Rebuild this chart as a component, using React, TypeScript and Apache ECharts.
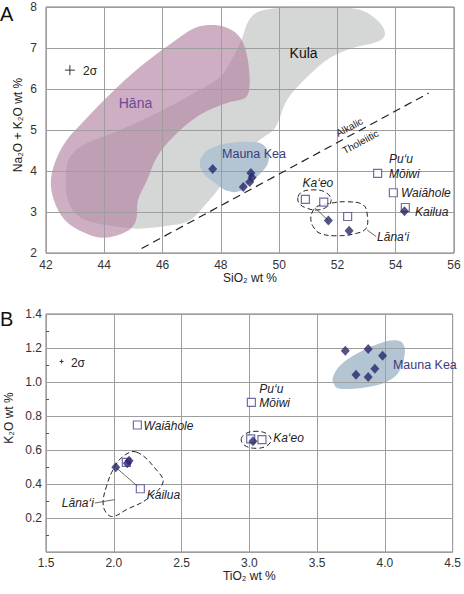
import React, { useEffect, useRef } from "react";
import * as echarts from "echarts";

const FONT = '"Liberation Sans", Arial, sans-serif';
const NAVY = "#28286a";
const SQUARE_EDGE = "#4a4a8c";

// ---------- Panel A (SiO2 vs Na2O+K2O) ----------
const kulaFieldA: [number, number][] = [
  [42.72, 4.15], [42.72, 3.37], [43.06, 2.93], [43.68, 2.73], [44.88, 2.61], [45.23, 2.59],
  [46.36, 2.68], [46.94, 2.8], [47.52, 3.22], [47.97, 3.61], [48.38, 4.02], [48.83, 4.39],
  [49.34, 4.76], [49.86, 5.05], [50.27, 5.73], [50.96, 6.29], [51.75, 6.76], [52.53, 7.0],
  [53.36, 7.15], [53.63, 7.32], [53.46, 7.61], [52.77, 7.93], [51.4, 8.0], [50.03, 7.98],
  [49.1, 7.8], [48.66, 7.12], [48.42, 6.78], [47.97, 6.29], [46.94, 5.85], [46.01, 5.49],
  [44.54, 5.0], [43.41, 4.68], [42.93, 4.44],
];
const hanaFieldA: [number, number][] = [
  [47.63, 7.56], [48.14, 7.51], [48.59, 7.32], [48.83, 7.0], [48.97, 6.46], [48.97, 5.98],
  [48.83, 5.78], [48.21, 5.66], [47.28, 5.37], [46.36, 4.83], [45.81, 4.34], [45.47, 3.78],
  [45.16, 3.29], [45.09, 2.8], [44.81, 2.54], [44.02, 2.37], [43.34, 2.49], [42.65, 2.8],
  [42.27, 3.29], [42.17, 3.78], [42.34, 4.27], [42.72, 4.76], [43.17, 5.12], [44.09, 5.8],
  [45.23, 6.54], [46.6, 7.27], [47.11, 7.49],
];
const maunaKeaFieldA: [number, number][] = [
  [47.28, 4.2], [47.46, 4.46], [47.8, 4.59], [48.31, 4.68], [49.0, 4.71], [49.41, 4.66],
  [49.62, 4.46], [49.62, 4.2], [49.41, 3.98], [49.0, 3.71], [48.66, 3.51], [48.25, 3.51],
  [47.8, 3.71], [47.42, 3.93],
];
const kaeoOutlineA: [number, number][] = [
  [50.65, 3.37], [50.78, 3.49], [51.16, 3.54], [51.57, 3.49], [51.78, 3.32], [51.68, 3.15],
  [51.33, 3.05], [50.92, 3.1], [50.68, 3.22],
];
const lanaiOutlineA: [number, number][] = [
  [51.12, 2.97], [51.29, 3.13], [51.75, 3.21], [52.32, 3.25], [52.89, 3.17], [53.03, 2.89],
  [52.98, 2.6], [52.66, 2.48], [51.98, 2.42], [51.4, 2.48], [51.17, 2.64], [51.09, 2.8],
];
const alkalicLineA: [number, number][] = [[45.28, 2.11], [55.13, 5.9]];
const kaeoLinkA: [number, number][] = [[51.23, 3.1], [51.69, 2.79]];
const lanaiLeaderA: [number, number][] = [[53.02, 2.56], [53.33, 2.4]];

const maunaKeaA: [number, number][] = [[47.72, 4.05], [49.03, 3.95], [49.07, 3.84], [48.99, 3.73], [48.77, 3.61]];
const filledOthersA: [number, number][] = [[51.69, 2.79], [52.4, 2.54], [54.3, 3.02]];
const openSquaresA: [number, number][] = [
  [53.38, 3.94], [53.92, 3.47], [54.33, 3.11], [50.9, 3.31], [51.53, 3.24], [52.35, 2.89],
];

const plainLabelsA: [number, number, string][] = [[50.84, 6.89, "Kula"]];
const hanaLabelA: [number, number, string][] = [[45.07, 5.66, "Hāna"]];
const maunaKeaLabelA: [number, number, string][] = [[48.04, 4.41, "Mauna Kea"]];
const italicLabelsA: [number, number, string][] = [
  [53.77, 4.29, "Pu‘u"], [53.77, 3.93, "Mōiwi"], [54.18, 3.46, "Waiāhole"],
  [54.66, 3.0, "Kailua"], [53.36, 2.39, "Lāna‘i"],
];
const kaeoLabelA: [number, number, string][] = [[51.33, 3.71, "Ka‘eo"]];
const seriesLineLabelsA: [number, number, string][] = [[52.41, 5.07, "Alkalic"], [52.79, 4.71, "Tholeiitic"]];
const sigmaCrossA: [number, number][] = [[42.82, 6.46]];
const sigmaLabelA: [number, number, string][] = [[43.27, 6.44, "2σ"]];

// ---------- Panel B (TiO2 vs K2O) ----------
const maunaKeaFieldB: [number, number][] = [
  [3.627, 0.984], [3.615, 1.024], [3.676, 1.102], [3.824, 1.18], [3.971, 1.229], [4.068, 1.245],
  [4.13, 1.229], [4.147, 1.171], [4.105, 1.062], [4.02, 1.004], [3.897, 0.974], [3.726, 0.959],
  [3.647, 0.965],
];
const lanaiOutlineB: [number, number][] = [
  [2.167, 0.588], [2.314, 0.484], [2.362, 0.406], [2.24, 0.308], [2.093, 0.249], [1.995, 0.209],
  [1.946, 0.229], [1.921, 0.288], [1.946, 0.386], [1.995, 0.484], [2.068, 0.562],
];
const kaeoOutlineB: [number, number][] = [
  [2.94, 0.66], [2.97, 0.695], [3.05, 0.71], [3.13, 0.695], [3.16, 0.66], [3.13, 0.625],
  [3.05, 0.61], [2.97, 0.625],
];
const kailuaLinkB: [number, number][] = [[2.015, 0.498], [2.196, 0.372]];
const lanaiLeaderB: [number, number][] = [[1.86, 0.288], [2.007, 0.308]];

const maunaKeaB: [number, number][] = [
  [3.708, 1.184], [3.877, 1.194], [3.983, 1.155], [3.926, 1.078], [3.787, 1.043], [3.877, 1.029],
];
const filledOthersB: [number, number][] = [[2.015, 0.498], [2.1, 0.522], [2.113, 0.537], [3.027, 0.651]];
const openSquaresB: [number, number][] = [
  [3.015, 0.88], [2.174, 0.747], [2.196, 0.372], [2.093, 0.527], [3.01, 0.665], [3.093, 0.661],
];

const italicLabelsB: [number, number, string][] = [
  [3.074, 0.96, "Pu‘u"], [3.074, 0.878, "Mōiwi"], [2.22, 0.743, "Waiāhole"],
  [2.243, 0.337, "Kailua"], [3.176, 0.672, "Ka‘eo"],
];
const lanaiLabelB: [number, number, string][] = [[1.853, 0.29, "Lāna‘i"]];
const maunaKeaLabelB: [number, number, string][] = [[4.059, 1.1, "Mauna Kea"]];
const sigmaCrossB: [number, number][] = [[1.615, 1.121]];
const sigmaLabelB: [number, number, string][] = [[1.684, 1.113, "2σ"]];

function polySeries(g: number, pts: [number, number][], style: any, smooth: number, z: number) {
  return {
    type: "custom",
    coordinateSystem: "cartesian2d",
    xAxisIndex: g,
    yAxisIndex: g,
    silent: true,
    z,
    data: pts,
    renderItem: (params: any, api: any) => {
      if (params.dataIndex !== 0) return null;
      const points = pts.map((p) => api.coord(p));
      return { type: "polygon", shape: { points, smooth }, style };
    },
  };
}

function textSeries(
  g: number,
  items: [number, number, string][],
  font: string,
  fill: string,
  align: string,
  rotation = 0
) {
  return {
    type: "custom",
    coordinateSystem: "cartesian2d",
    xAxisIndex: g,
    yAxisIndex: g,
    silent: true,
    z: 7,
    data: items.map((d) => [d[0], d[1]]),
    renderItem: (params: any, api: any) => {
      const p = api.coord([api.value(0), api.value(1)]);
      return {
        type: "text",
        x: p[0],
        y: p[1],
        rotation,
        style: { text: items[params.dataIndex][2], font, fill, align, verticalAlign: "middle" },
      };
    },
  };
}

function crossSeries(g: number, pts: [number, number][], half: number) {
  return {
    type: "custom",
    coordinateSystem: "cartesian2d",
    xAxisIndex: g,
    yAxisIndex: g,
    silent: true,
    z: 7,
    data: pts,
    renderItem: (params: any, api: any) => {
      const p = api.coord([api.value(0), api.value(1)]);
      const st = { stroke: "#333", lineWidth: 1 };
      return {
        type: "group",
        children: [
          { type: "line", shape: { x1: p[0] - half, y1: p[1], x2: p[0] + half, y2: p[1] }, style: st },
          { type: "line", shape: { x1: p[0], y1: p[1] - half, x2: p[0], y2: p[1] + half }, style: st },
        ],
      };
    },
  };
}

function lineSeries(g: number, pts: [number, number][], width: number, dash: any, color = "#222") {
  return {
    type: "line",
    xAxisIndex: g,
    yAxisIndex: g,
    silent: true,
    z: 4,
    data: pts,
    symbol: "none",
    lineStyle: { color, width, type: dash },
  };
}

function scatter(g: number, pts: [number, number][], filled: boolean) {
  return filled
    ? {
        type: "scatter",
        xAxisIndex: g,
        yAxisIndex: g,
        silent: true,
        z: 6,
        data: pts,
        symbol: "diamond",
        symbolSize: [9, 10],
        itemStyle: { color: NAVY },
      }
    : {
        type: "scatter",
        xAxisIndex: g,
        yAxisIndex: g,
        silent: true,
        z: 5,
        data: pts,
        symbol: "rect",
        symbolSize: 8,
        itemStyle: { color: "#ffffff", borderColor: SQUARE_EDGE, borderWidth: 1.2 },
      };
}

const dashedOutline = { fill: "none", stroke: "#222", lineWidth: 1, lineDash: [5, 3] };
const tickLabel = { fontFamily: FONT, fontSize: 12, color: "#333" };
const splitLine = { show: true, lineStyle: { color: "#9e9e9e", width: 1 } };

export default function App() {
  const ref = useRef<HTMLDivElement>(null);
  useEffect(() => {
    if (!ref.current) return;
    const chart = echarts.init(ref.current, undefined, { renderer: "svg" });
    const italic = `italic 12px ${FONT}`;
    chart.setOption({
      animation: false,
      backgroundColor: "#ffffff",
      grid: [
        { left: 46, top: 7, width: 408, height: 246, show: true, borderColor: "#7a7a7a", borderWidth: 1, z: 3 },
        { left: 46, top: 314, width: 408, height: 238, show: true, borderColor: "#7a7a7a", borderWidth: 1, z: 3 },
      ],
      xAxis: [
        {
          gridIndex: 0, type: "value", min: 42, max: 56, interval: 2, z: 3,
          name: "SiO₂ wt %", nameLocation: "middle", nameGap: 14,
          nameTextStyle: { fontFamily: FONT, fontSize: 12, color: "#222" },
          axisLine: { show: false }, axisTick: { show: false },
          axisLabel: { ...tickLabel, margin: 6 }, splitLine,
        },
        {
          gridIndex: 1, type: "value", min: 1.5, max: 4.5, interval: 0.5, z: 3,
          name: "TiO₂ wt %", nameLocation: "middle", nameGap: 16,
          nameTextStyle: { fontFamily: FONT, fontSize: 12, color: "#222" },
          axisLine: { show: false }, axisTick: { show: false },
          axisLabel: { ...tickLabel, margin: 5, formatter: (v: number) => v.toFixed(1) }, splitLine,
        },
      ],
      yAxis: [
        {
          gridIndex: 0, type: "value", min: 2, max: 8, interval: 1, z: 3,
          axisLine: { show: false }, axisTick: { show: false },
          axisLabel: { ...tickLabel, margin: 9 }, splitLine,
        },
        {
          gridIndex: 1, type: "value", min: 0, max: 1.4, interval: 0.2, z: 3,
          axisLine: { show: false }, axisTick: { show: false, inside: true },
          minorTick: { show: true, splitNumber: 2, length: 3, lineStyle: { color: "#555", width: 1 } },
          axisLabel: { ...tickLabel, margin: 4, showMinLabel: false, formatter: (v: number) => v.toFixed(1) },
          splitLine,
        },
      ],
      graphic: [
        { type: "text", left: 0, top: 4, style: { text: "A", font: `20px ${FONT}`, fill: "#111" } },
        { type: "text", left: 0, top: 309, style: { text: "B", font: `20px ${FONT}`, fill: "#111" } },
        {
          type: "text", x: 17.5, y: 125, rotation: Math.PI / 2,
          style: { text: "Na₂O + K₂O wt %", font: `12px ${FONT}`, fill: "#222", align: "center", verticalAlign: "middle" },
        },
        {
          type: "text", x: 8.5, y: 418, rotation: Math.PI / 2,
          style: { text: "K₂O wt %", font: `12px ${FONT}`, fill: "#222", align: "center", verticalAlign: "middle" },
        },
      ],
      series: [
        // Panel A fields
        polySeries(0, kulaFieldA, { fill: "#d5d7d7" }, 0.35, 1),
        polySeries(0, hanaFieldA, { fill: "rgb(176,124,157)", opacity: 0.62 }, 0.35, 1),
        polySeries(0, maunaKeaFieldA, { fill: "#b3c4d2" }, 0.4, 1),
        polySeries(0, kaeoOutlineA, dashedOutline, 0.4, 4),
        polySeries(0, lanaiOutlineA, dashedOutline, 0.4, 4),
        lineSeries(0, alkalicLineA, 1.2, [8, 5]),
        lineSeries(0, kaeoLinkA, 0.8, "solid", "#444"),
        lineSeries(0, lanaiLeaderA, 0.8, "solid", "#444"),
        scatter(0, openSquaresA, false),
        scatter(0, maunaKeaA, true),
        scatter(0, filledOthersA, true),
        textSeries(0, plainLabelsA, `14px ${FONT}`, "#111", "center"),
        textSeries(0, hanaLabelA, `14px ${FONT}`, "#6a4a98", "center"),
        textSeries(0, maunaKeaLabelA, `12.5px ${FONT}`, "#3b3a7e", "left"),
        textSeries(0, italicLabelsA, italic, "#222", "left"),
        textSeries(0, kaeoLabelA, italic, "#222", "center"),
        textSeries(0, seriesLineLabelsA, `10px ${FONT}`, "#222", "center", (28.4 * Math.PI) / 180),
        crossSeries(0, sigmaCrossA, 5),
        textSeries(0, sigmaLabelA, `12px ${FONT}`, "#222", "left"),
        // Panel B
        polySeries(1, maunaKeaFieldB, { fill: "#b3c4d2" }, 0.4, 1),
        polySeries(1, lanaiOutlineB, dashedOutline, 0.4, 4),
        polySeries(1, kaeoOutlineB, dashedOutline, 0.4, 4),
        lineSeries(1, kailuaLinkB, 0.8, "solid", "#444"),
        lineSeries(1, lanaiLeaderB, 0.8, "solid", "#444"),
        scatter(1, openSquaresB, false),
        scatter(1, maunaKeaB, true),
        scatter(1, filledOthersB, true),
        textSeries(1, italicLabelsB, italic, "#222", "left"),
        textSeries(1, lanaiLabelB, italic, "#222", "right"),
        textSeries(1, maunaKeaLabelB, `12.5px ${FONT}`, "#3b3a7e", "left"),
        crossSeries(1, sigmaCrossB, 2),
        textSeries(1, sigmaLabelB, `12px ${FONT}`, "#222", "left"),
      ],
    });
    return () => chart.dispose();
  }, []);
  return (
    <div
      ref={ref}
      style={{ position: "absolute", left: 0, top: 0, width: 464, height: 594, background: "#fff" }}
    />
  );
}
